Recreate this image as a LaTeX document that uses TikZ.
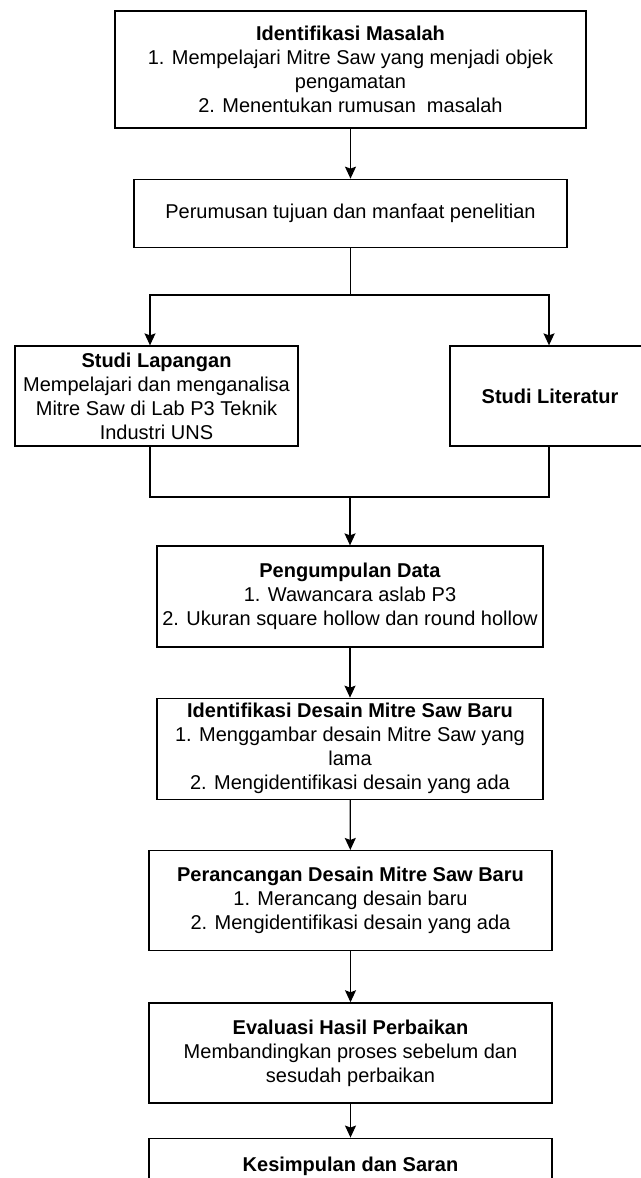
\documentclass[tikz,border=0pt]{standalone}
\usepackage{fontspec}
\setmainfont{Liberation Sans}
\usetikzlibrary{positioning, arrows.meta}

\begin{document}
\begin{tikzpicture}[
    x=1pt, y=-1pt,
    stepbox/.style={rectangle, draw, line width=1.3pt, align=center, inner sep=0pt, font=\fontsize{20}{24}\selectfont},
    arrow/.style={-{Stealth[length=12pt, width=11pt, inset=2pt]}, line width=1.3pt},
    line/.style={line width=1.3pt},
    node distance=50pt
]
\useasboundingbox (0,0) rectangle (640,1178);

% --- Problem and objectives ---
\node[stepbox, minimum width=471pt, minimum height=117pt] (masalah) at (350.5,69.5)
    {\textbf{Identifikasi Masalah}\\1. Mempelajari Mitre Saw yang menjadi objek\\pengamatan\\2. Menentukan rumusan\ \ masalah};
\node[stepbox, minimum width=433pt, minimum height=68pt, below=of masalah] (tujuan)
    {Perumusan tujuan dan manfaat penelitian};

% --- Field and literature study ---
\node[stepbox, minimum width=283pt, minimum height=100pt] (lapangan) at (156.5,396)
    {\textbf{Studi Lapangan}\\Mempelajari dan menganalisa\\Mitre Saw di Lab P3 Teknik\\Industri UNS};
\node[stepbox, minimum width=200pt, minimum height=100pt] (literatur) at (550,396)
    {\textbf{Studi Literatur}};

% --- Data and design ---
\node[stepbox, minimum width=386pt, minimum height=101pt] (data) at (350,596.5)
    {\textbf{Pengumpulan Data}\\1. Wawancara aslab P3\\2. Ukuran square hollow dan round hollow};
\node[stepbox, minimum width=386pt, minimum height=101pt, below=of data] (desain)
    {\textbf{Identifikasi Desain Mitre Saw Baru}\\1. Menggambar desain Mitre Saw yang\\lama\\2. Mengidentifikasi desain yang ada};
\node[stepbox, minimum width=403pt, minimum height=100pt, below=of desain, xshift=0.5pt] (rancang)
    {\textbf{Perancangan Desain Mitre Saw Baru}\\1. Merancang desain baru\\2. Mengidentifikasi desain yang ada};
\node[stepbox, minimum width=403pt, minimum height=100pt, below=51pt of rancang] (evaluasi)
    {\textbf{Evaluasi Hasil Perbaikan}\\Membandingkan proses sebelum dan\\sesudah perbaikan};
\node[stepbox, minimum width=403pt, minimum height=100pt, below=34pt of evaluasi] (simpulan)
    {\textbf{Kesimpulan dan Saran}\\\mbox{}\\\mbox{}};

% --- Arrows ---
\coordinate (split) at (350.5,295);
\coordinate (join) at (350,497);

\draw[arrow] (masalah) -- (tujuan);
\draw[line] (tujuan) -- (split);
\draw[arrow] (split) -| ([xshift=-6.5pt]lapangan.north);
\draw[arrow] (split) -| ([xshift=-1pt]literatur.north);

\draw[line] ([xshift=-6.5pt]lapangan.south) |- (join) -| ([xshift=-1pt]literatur.south);
\draw[arrow] (join) -- (data);

\draw[arrow] (data) -- (desain);
\draw[arrow] (desain) -- (rancang);
\draw[arrow] (rancang) -- (evaluasi);
\draw[arrow] (evaluasi) -- (simpulan);

\end{tikzpicture}
\end{document}
